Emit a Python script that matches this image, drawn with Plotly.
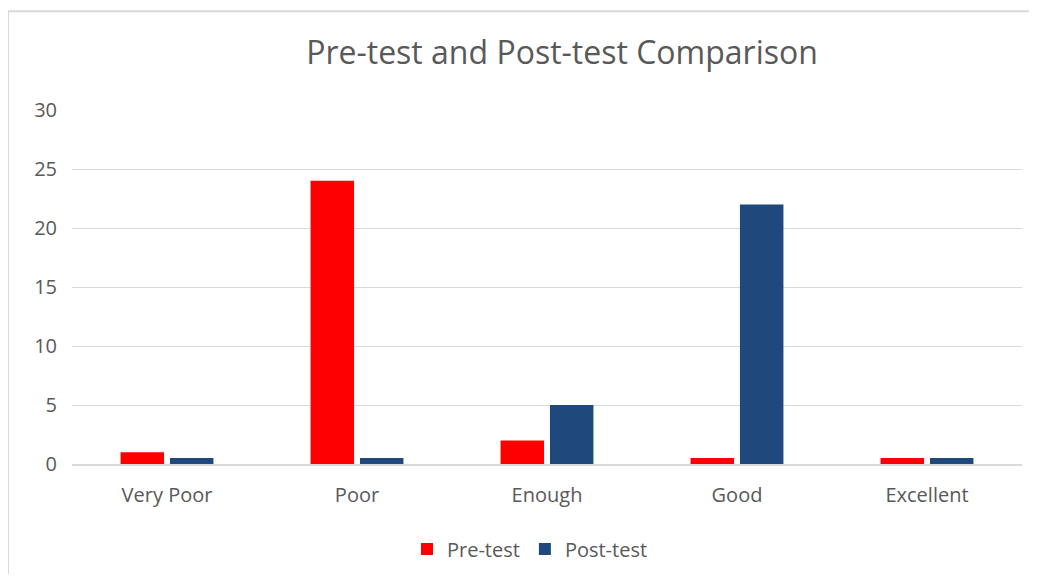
import plotly.graph_objects as go

categories = ["Very Poor", "Poor", "Enough", "Good", "Excellent"]
pre_test = [1, 24, 2, 0.5, 0.5]
post_test = [0.5, 0.5, 5, 22, 0.5]
y_ticks = [0, 5, 10, 15, 20, 25, 30]

OFF = 8  # page body margin offset
W, H = 1037 - 2 * OFF, 582 - 2 * OFF
L, T = 72 - OFF, 110 - OFF
pw, ph = 950, 355
R, B = W - L - pw, H - T - ph

def px(x):
    return (x - OFF - L) / pw

def py(y):
    return (H - B - (y - OFF)) / ph

fig = go.Figure()
fig.add_trace(go.Bar(name="Pre-test", x=categories, y=pre_test,
                     marker=dict(color="#ff0000", line=dict(width=0))))
fig.add_trace(go.Bar(name="Post-test", x=categories, y=post_test,
                     marker=dict(color="#1f497d", line=dict(width=0))))

font_fam = "Open Sans, Lato, sans-serif"
border = dict(color="#d9d9d9", width=2)
fig.update_layout(
    width=W, height=H,
    margin=dict(l=L, r=R, t=T, b=B, pad=0),
    paper_bgcolor="white", plot_bgcolor="white",
    barmode="group", bargap=0.48, bargroupgap=0.12,
    title=dict(text="Pre-test and Post-test Comparison",
               x=(562 - OFF) / W, xanchor="center",
               y=1 - (53 - OFF) / H, yanchor="middle",
               font=dict(family=font_fam, size=32, color="#595959")),
    font=dict(family=font_fam, color="#595959"),
    showlegend=True,
    legend=dict(orientation="h", x=px(530), xanchor="center", y=py(549), yanchor="middle",
                font=dict(size=20, color="#595959"), itemwidth=30, traceorder="normal",
                bgcolor="rgba(0,0,0,0)"),
    xaxis=dict(showgrid=False, showline=True, linecolor="#d9d9d9", linewidth=2,
               ticks="", tickfont=dict(size=20, color="#595959"), ticklabelstandoff=12),
    yaxis=dict(range=[0, 30], tickvals=y_ticks, showgrid=True, gridcolor="#d9d9d9",
               gridwidth=1, zeroline=False, showline=False, ticks="",
               tickfont=dict(size=20, color="#595959"), ticklabelstandoff=14),
    shapes=[
        dict(type="line", xref="paper", yref="paper",
             x0=px(8), x1=px(1037 + 40), y0=py(11), y1=py(11), line=border, layer="below"),
        dict(type="line", xref="paper", yref="paper",
             x0=px(8), x1=px(8), y0=py(11), y1=py(582 + 40), line=border, layer="below"),
    ],
)

fig.write_html("out.html")
